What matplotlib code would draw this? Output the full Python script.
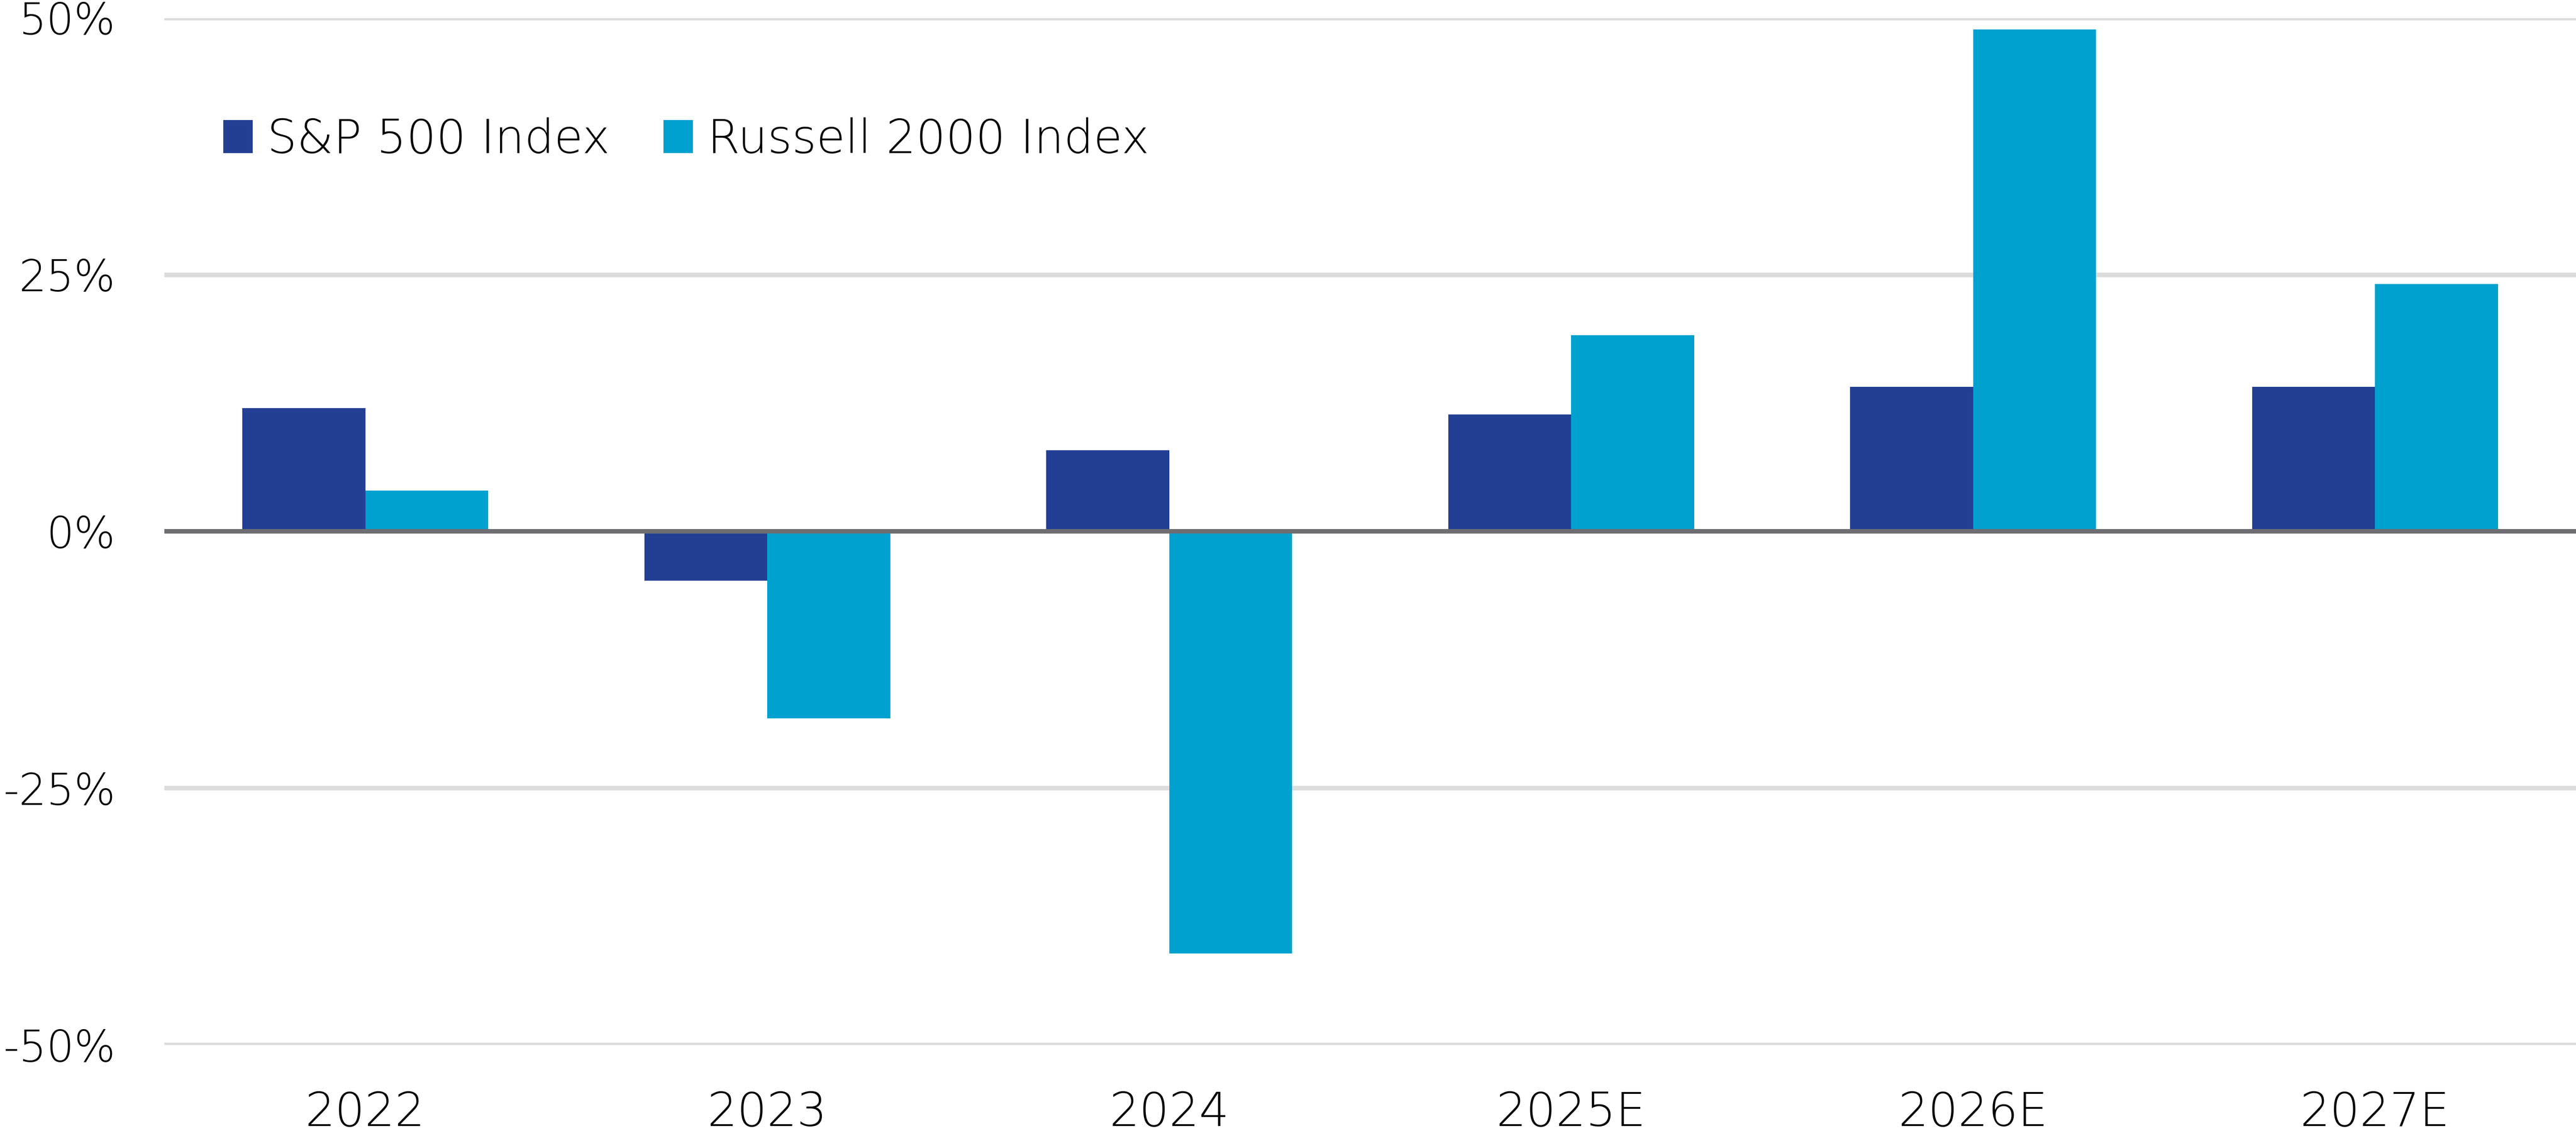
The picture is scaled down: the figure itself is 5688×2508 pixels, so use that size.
import matplotlib
matplotlib.use("Agg")
import matplotlib.pyplot as plt
import numpy as np
from matplotlib.patches import Patch

# Data (annual returns, %)
years = ["2022", "2023", "2024", "2025E", "2026E", "2027E"]
sp500 = [12.0, -4.8, 7.9, 11.4, 14.1, 14.1]
russell2000 = [4.0, -18.2, -41.1, 19.1, 48.9, 24.1]
series_names = ["S&P 500 Index", "Russell 2000 Index"]
yticks = [-50, -25, 0, 25, 50]

colors = {"S&P 500 Index": "#223f94", "Russell 2000 Index": "#00a1cf"}

plt.rcParams["font.family"] = ["DejaVu Sans"]
plt.rcParams["font.weight"] = "light"

fig = plt.figure(figsize=(18.96, 8.36), dpi=300)
ax = fig.add_axes([0.0638, 0.0801, 0.9362, 0.904])

x = np.arange(len(years))
bar_width = 0.306

ax.bar(x - bar_width / 2, sp500, width=bar_width, color=colors[series_names[0]], zorder=3)
ax.bar(x + bar_width / 2, russell2000, width=bar_width, color=colors[series_names[1]], zorder=3)

# gridlines and zero line
for t in yticks:
    if t == 0:
        ax.axhline(0, color="#6d6d72", linewidth=2.4, zorder=4)
    else:
        ax.axhline(t, color="#dcdcdc", linewidth=2.4, zorder=1)

ax.set_xlim(-0.5, 5.5)
ax.set_ylim(-50, 50)
ax.set_yticks(yticks)
ax.set_yticklabels([f"{t}%" for t in yticks])
ax.set_xticks(x)
ax.set_xticklabels(years)
ax.tick_params(axis="both", length=0, colors="black")
ax.tick_params(axis="x", labelsize=25, pad=24)
ax.tick_params(axis="y", labelsize=23, pad=26)
for s in ax.spines.values():
    s.set_visible(False)

legend_elements = [Patch(facecolor=colors[n], label=n) for n in series_names]
ax.legend(handles=legend_elements, loc="center left", bbox_to_anchor=(0.0244, 0.8815),
          ncol=2, frameon=False, fontsize=24.8, handlelength=0.63, handleheight=0.7,
          handletextpad=0.31, columnspacing=1.15, borderpad=0, borderaxespad=0)

fig.savefig("out.png", dpi=300)
